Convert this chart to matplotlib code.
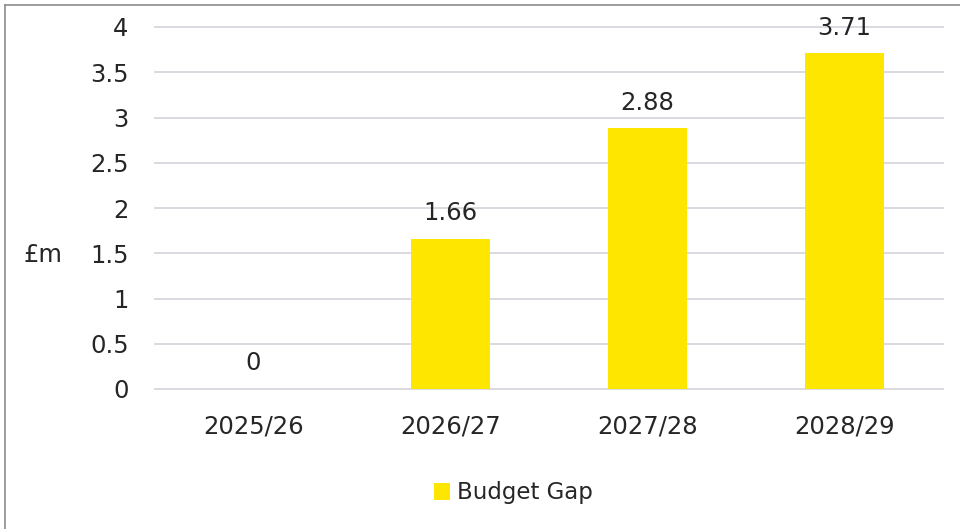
import matplotlib.pyplot as plt
from matplotlib.lines import Line2D

years = ['2025/26', '2026/27', '2027/28', '2028/29']
budget_gap = [0, 1.66, 2.88, 3.71]
value_labels = ['0', '1.66', '2.88', '3.71']

plt.rcParams['font.family'] = ['Verdana', 'DejaVu Sans']
text_col = '#262626'

fig = plt.figure(figsize=(9.6, 5.29), dpi=100)
ax = fig.add_axes([155 / 960, 1 - 389 / 529, 788 / 960, 362 / 529])

x = range(len(years))
bars = ax.bar(x, budget_gap, width=0.4, color='#FFE600', label='Budget Gap', zorder=3)
for xi, v, lab in zip(x, budget_gap, value_labels):
    ax.text(xi, v + 0.15, lab, ha='center', va='bottom', fontsize=17.5, color=text_col)

ax.set_xlim(-0.5, 3.5)
ax.set_ylim(0, 4)
ax.set_yticks([0, 0.5, 1, 1.5, 2, 2.5, 3, 3.5, 4])
ax.set_yticklabels(['0', '0.5', '1', '1.5', '2', '2.5', '3', '3.5', '4'])
ax.set_xticks(list(x))
ax.set_xticklabels(years)
ax.tick_params(axis='both', length=0, labelsize=17.5, labelcolor=text_col)
ax.tick_params(axis='y', pad=19)
ax.tick_params(axis='x', pad=18)
ax.grid(axis='y', color='#D9D9E0', linewidth=1.4, zorder=0)
for gl in ax.get_ygridlines():
    gl.set_clip_on(False)
for s in ax.spines.values():
    s.set_visible(False)

fig.text(43 / 960, 1 - 255 / 529, '£m', ha='center', va='center', fontsize=17.5, color=text_col)

leg = fig.legend(handles=[bars], labels=['Budget Gap'], loc='center',
                 bbox_to_anchor=(513 / 960, 1 - 493 / 529), frameon=False,
                 fontsize=16.5, handlelength=0.7, handleheight=0.7, handletextpad=0.3)
for t in leg.get_texts():
    t.set_color(text_col)

# chart border
fig.add_artist(Line2D([4.5 / 960, 4.5 / 960], [0, 1 - 5 / 529], color='#8C8C8C', linewidth=1.2))
fig.add_artist(Line2D([4.5 / 960, 1], [1 - 5 / 529, 1 - 5 / 529], color='#8C8C8C', linewidth=1.2))

fig.savefig('out.png', dpi=100)
